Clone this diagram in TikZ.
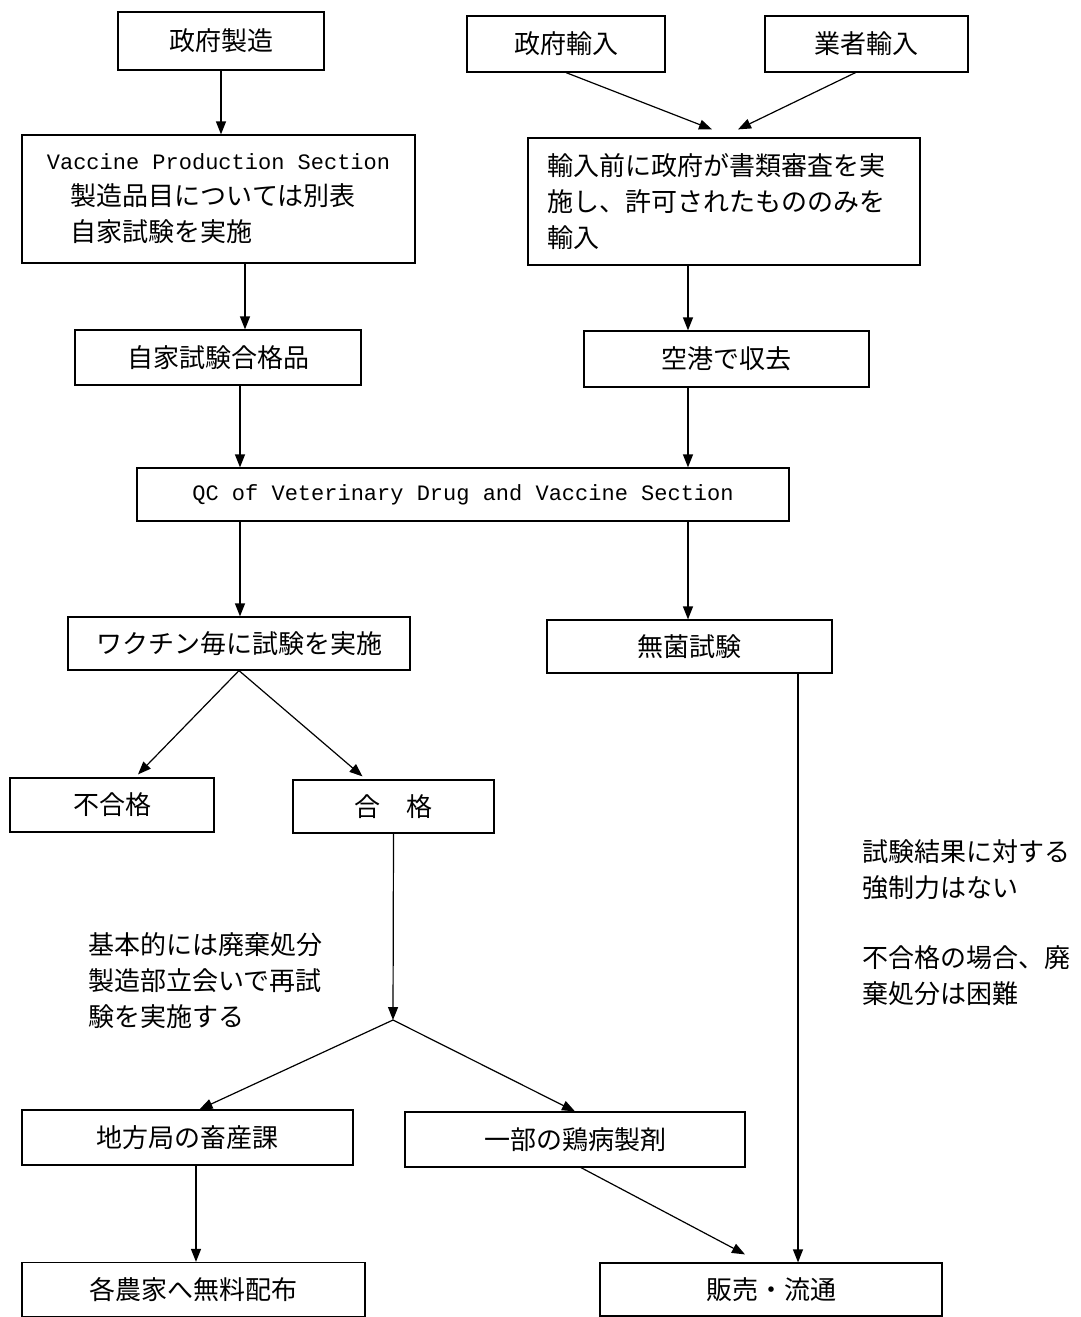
\documentclass[tikz,border=0pt]{standalone}
\usepackage{fontspec}
\setmainfont{Noto Sans CJK JP}
\newfontfamily\enmono{Liberation Mono}
\usetikzlibrary{arrows.meta}
\newcommand\jpsz{\fontsize{26}{36}\selectfont}
\newcommand\ensz{\fontsize{22}{36}\selectfont\enmono}
\begin{document}
\begin{tikzpicture}[x=1pt,y=-1pt,
  box/.style={draw, line width=1.2pt, inner sep=0pt, font=\jpsz},
  note/.style={inner sep=0pt, align=left, anchor=north west, font=\jpsz},
  arr/.style={line width=1.2pt, -{Triangle[length=13pt,width=10pt]}},
  ln/.style={line width=1.2pt}]
\useasboundingbox (0,0) rectangle (1080,1317);
\fill[white] (0,0) rectangle (1080,1317);
% boxes
\node[box, minimum width=206pt, minimum height=58pt] (gs) at (221,41) {政府製造};
\node[box, minimum width=198pt, minimum height=56pt] (gi) at (566,44) {政府輸入};
\node[box, minimum width=203pt, minimum height=56pt] (gy) at (866.5,44) {業者輸入};
\node[box, minimum width=393pt, minimum height=128pt, align=left] (vps) at (218.5,199)
  {{\ensz Vaccine Production Section}\\\hspace*{24pt}製造品目については別表\\\hspace*{24pt}自家試験を実施};
\node[box, minimum width=392pt, minimum height=127pt, align=left, text width=354pt] (imp) at (724,201.5)
  {輸入前に政府が書類審査を実\\施し、許可されたもののみを\\輸入};
\node[box, minimum width=286pt, minimum height=55pt] (jk) at (218,357.5) {自家試験合格品};
\node[box, minimum width=285pt, minimum height=56pt] (air) at (726.5,359) {空港で収去};
\node[box, minimum width=652pt, minimum height=53pt] (qc) at (463,494.5) {\ensz QC of Veterinary Drug and Vaccine Section};
\node[box, minimum width=342pt, minimum height=53pt] (wk) at (239,643.5) {ワクチン毎に試験を実施};
\node[box, minimum width=285pt, minimum height=53pt] (mk) at (689.5,646.5) {無菌試験};
\node[box, minimum width=204pt, minimum height=54pt] (fg) at (112,805) {不合格};
\node[box, minimum width=201pt, minimum height=53pt] (gk) at (393.5,806.5) {合\hspace{26pt}格};
\node[box, minimum width=331pt, minimum height=55pt] (ch) at (187.5,1137.5) {地方局の畜産課};
\node[box, minimum width=340pt, minimum height=55pt] (kb) at (575,1139.5) {一部の鶏病製剤};
\node[box, minimum width=343pt, minimum height=54pt] (nk) at (193.5,1289.5) {各農家へ無料配布};
\node[box, minimum width=342pt, minimum height=53pt] (hb) at (771,1289.5) {販売・流通};
% notes
\node[note] (n1) at (862,839) {試験結果に対する\\強制力はない};
\node[note] (n2) at (862,945) {不合格の場合、廃\\棄処分は困難};
\node[note] (n3) at (88,932) {基本的には廃棄処分\\製造部立会いで再試\\験を実施する};
% helper coordinates
\coordinate (xa) at (245,0);
\coordinate (xb) at (240,0);
\coordinate (xc) at (688,0);
\coordinate (xd) at (798,0);
\coordinate (br) at (393,1020);
% connectors
\draw[arr] (gs.south) -- (gs.south |- vps.north);
\draw[arr] (gi.south) -- ([xshift=-12pt,yshift=8pt]imp.north);
\draw[arr] ([xshift=-11pt]gy.south) -- ([xshift=14pt,yshift=8pt]imp.north);
\draw[arr] (vps.south -| xa) -- (jk.north -| xa);
\draw[arr] (imp.south -| xc) -- (air.north -| xc);
\draw[arr] (jk.south -| xb) -- (qc.north -| xb);
\draw[arr] (air.south -| xc) -- (qc.north -| xc);
\draw[arr] (qc.south -| xb) -- (wk.north -| xb);
\draw[arr] (qc.south -| xc) -- (mk.north -| xc);
\draw[arr] (wk.south) -- ([xshift=26pt,yshift=3pt]fg.north);
\draw[arr] (wk.south) -- ([xshift=-31pt,yshift=3pt]gk.north);
\draw[arr] (gk.south) -- (br);
\draw[arr] (br) -- ([xshift=12pt]ch.north);
\draw[arr] (br) -- (kb.north);
\draw[arr] ([xshift=8.5pt]ch.south) -- ([xshift=2.5pt]nk.north);
\draw[arr] ([xshift=6pt]kb.south) -- ([xshift=-26pt,yshift=8pt]hb.north);
\draw[arr] (mk.south -| xd) -- (hb.north -| xd);
\end{tikzpicture}
\end{document}
